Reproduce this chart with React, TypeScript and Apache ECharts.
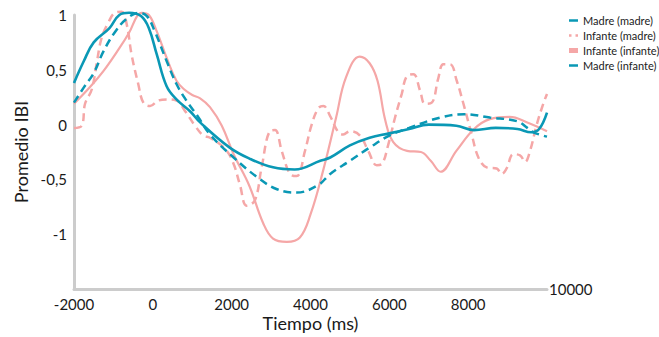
import React, { useEffect, useRef } from "react";
import * as echarts from "echarts";

const BLUE = "#0a98b5";
const PINK = "#f5a7a7";

const xTicks = [-2000, 0, 2000, 4000, 6000, 8000, 10000];
const yTicks = [-1.5, -1, -0.5, 0, 0.5, 1];

const madreMadre: [number, number][] = [
  [-2000, 0.38], [-1750, 0.58], [-1500, 0.75], [-1100, 0.88], [-850, 1.0], [-600, 1.02],
  [-300, 0.99], [-100, 0.88], [100, 0.64], [350, 0.35], [600, 0.23], [950, 0.12],
  [1200, 0.02], [1950, -0.21], [2450, -0.31], [3050, -0.39], [3600, -0.41], [4250, -0.33],
  [4500, -0.3], [5000, -0.19], [5500, -0.12], [6000, -0.08], [6500, -0.04], [7000, 0.0],
  [7700, -0.01], [8150, -0.05], [8700, -0.03], [9250, -0.04], [9600, -0.07], [9800, -0.04],
  [10000, 0.11],
];

const madreInfante: [number, number][] = [
  [-2000, 0.2], [-1750, 0.34], [-1500, 0.47], [-1250, 0.67], [-950, 0.85], [-650, 0.97],
  [-350, 1.02], [-150, 0.99], [50, 0.85], [350, 0.58], [600, 0.37], [850, 0.22],
  [1150, 0.07], [1450, -0.09], [2050, -0.3], [2650, -0.48], [3150, -0.59], [3650, -0.62],
  [4200, -0.55], [4500, -0.45], [5000, -0.33], [5500, -0.21], [6000, -0.1], [6500, -0.03],
  [7300, 0.065], [7900, 0.095], [8550, 0.065], [9250, 0.03], [9500, -0.03], [9650, -0.07],
  [10000, -0.11],
];

const infanteInfante: [number, number][] = [
  [-2000, 0.19], [-1600, 0.34], [-1250, 0.49], [-900, 0.67], [-600, 0.84], [-400, 0.99],
  [-280, 1.02], [-100, 1.0], [100, 0.85], [350, 0.61], [600, 0.4], [800, 0.32],
  [1000, 0.27], [1200, 0.24], [1450, 0.16], [1750, -0.01], [2050, -0.27], [2450, -0.56],
  [2800, -0.9], [3050, -1.04], [3400, -1.07], [3730, -1.03], [4000, -0.82], [4320, -0.42],
  [4650, 0.065], [4900, 0.43], [5250, 0.62], [5500, 0.56], [5700, 0.4], [5900, 0.035],
  [6100, -0.16], [6450, -0.24], [6800, -0.25], [7050, -0.33], [7300, -0.43], [7700, -0.24],
  [8150, -0.04], [8550, 0.05], [9050, 0.07], [9500, 0.02], [10000, -0.06],
];

const infanteMadre: [number, number][] = [
  [-2000, -0.03], [-1805, -0.01], [-1720, 0.19], [-1550, 0.32], [-1420, 0.57], [-1300, 0.79],
  [-1130, 0.93], [-960, 1.02], [-790, 1.03], [-660, 0.91], [-540, 0.64], [-370, 0.37],
  [-240, 0.2], [-70, 0.17], [140, 0.22], [350, 0.23], [600, 0.22], [815, 0.125],
  [1070, -0.01], [1280, -0.1], [1450, -0.12], [1830, -0.22], [2040, -0.35], [2210, -0.55],
  [2380, -0.74], [2590, -0.69], [2760, -0.39], [2970, -0.06], [3100, -0.05], [3270, -0.24],
  [3480, -0.45], [3650, -0.47], [3860, -0.24], [4030, 0.0], [4200, 0.15], [4325, 0.17],
  [4495, 0.08], [4705, -0.07], [4830, -0.09], [5000, -0.06], [5255, -0.1], [5465, -0.24],
  [5680, -0.37], [5805, -0.36], [5975, -0.18], [6145, 0.065], [6315, 0.28], [6440, 0.44],
  [6610, 0.46], [6780, 0.31], [6905, 0.19], [7075, 0.2], [7240, 0.42], [7370, 0.55],
  [7540, 0.55], [7710, 0.4], [7880, 0.19], [8090, -0.09], [8260, -0.3], [8470, -0.39],
  [8725, -0.4], [8850, -0.45], [8975, -0.4], [9145, -0.27], [9315, -0.28], [9445, -0.34],
  [9570, -0.24], [9740, 0.0], [9905, 0.19], [10000, 0.28],
];

const FONT = "Lato, 'Open Sans', sans-serif";

export default function App() {
  const ref = useRef<HTMLDivElement>(null);
  useEffect(() => {
    if (!ref.current) return;
    const chart = echarts.init(ref.current, undefined, { renderer: "svg" });
    const xMin = xTicks[0];
    const xMax = xTicks[xTicks.length - 1];
    chart.setOption({
      animation: false,
      textStyle: { fontFamily: FONT },
      grid: { left: 74, right: 112, top: 15, bottom: 47 },
      legend: {
        orient: "vertical",
        left: 564,
        top: 9,
        itemWidth: 9,
        itemHeight: 5,
        itemGap: 2,
        textStyle: { fontSize: 11, color: "#222", fontFamily: FONT, lineHeight: 13 },
        data: [
          { name: "Madre (madre)", icon: "path://M0,0h9v2.5h-9z", itemStyle: { color: BLUE, borderWidth: 0 } },
          { name: "Infante (madre)", icon: "path://M0,0h2.5v2.5h-2.5zM6.5,0h2.5v2.5h-2.5z", itemStyle: { color: PINK, borderWidth: 0 } },
          { name: "Infante (infante)", icon: "path://M0,0h9v5h-9z", itemStyle: { color: PINK, borderWidth: 0 } },
          { name: "Madre (infante)", icon: "path://M0,0h9v2.5h-9z", itemStyle: { color: BLUE, borderWidth: 0 } },
        ],
      },
      xAxis: [
        {
          type: "value",
          min: xMin,
          max: xMax,
          interval: 2000,
          axisLine: { show: true, onZero: false, lineStyle: { color: "#cccccc", width: 3 } },
          axisTick: { show: false },
          splitLine: { show: false },
          axisLabel: {
            fontSize: 15,
            color: "#1a1a1a",
            margin: 7,
            formatter: (v: number) => (v === xMax ? "" : String(v)),
          },
          name: String(xMax),
          nameLocation: "end",
          nameGap: 2,
          nameTextStyle: {
            fontSize: 15,
            color: "#1a1a1a",
            verticalAlign: "middle",
            align: "left",
            padding: [0, 0, 6, 0],
          },
        },
        {
          type: "value",
          min: xMin,
          max: xMax,
          position: "bottom",
          axisLine: { show: false, onZero: false },
          axisTick: { show: false },
          axisLabel: { show: false },
          splitLine: { show: false },
          name: "Tiempo (ms)",
          nameLocation: "middle",
          nameGap: 25,
          nameTextStyle: { fontSize: 18, color: "#1a1a1a" },
        },
      ],
      yAxis: {
        type: "value",
        min: yTicks[0],
        max: yTicks[yTicks.length - 1],
        interval: 0.5,
        axisLine: { show: true, onZero: false, lineStyle: { color: "#cccccc", width: 3 } },
        axisTick: { show: false },
        splitLine: { show: false },
        axisLabel: {
          fontSize: 15,
          color: "#1a1a1a",
          margin: 7,
          formatter: (v: number) => (v === yTicks[0] ? "" : String(v).replace(".", ",")),
        },
        name: "Promedio IBI",
        nameLocation: "middle",
        nameGap: 42,
        nameTextStyle: { fontSize: 18, color: "#1a1a1a" },
      },
      series: [
        {
          name: "Infante (infante)",
          type: "line",
          data: infanteInfante,
          smooth: 0.4,
          showSymbol: false,
          clip: false,
          lineStyle: { color: PINK, width: 2.2 },
          itemStyle: { color: PINK },
        },
        {
          name: "Infante (madre)",
          type: "line",
          data: infanteMadre,
          smooth: 0.4,
          showSymbol: false,
          clip: false,
          lineStyle: { color: PINK, width: 2.5, type: [8, 5] },
          itemStyle: { color: PINK },
        },
        {
          name: "Madre (infante)",
          type: "line",
          data: madreInfante,
          smooth: 0.4,
          showSymbol: false,
          clip: false,
          lineStyle: { color: BLUE, width: 2.5, type: [8, 5] },
          itemStyle: { color: BLUE },
        },
        {
          name: "Madre (madre)",
          type: "line",
          data: madreMadre,
          smooth: 0.4,
          showSymbol: false,
          clip: false,
          lineStyle: { color: BLUE, width: 2.6 },
          itemStyle: { color: BLUE },
        },
      ],
    });
    return () => chart.dispose();
  }, []);
  return <div ref={ref} style={{ width: 659, height: 337, position: "absolute", left: 0, top: 0 }} />;
}
